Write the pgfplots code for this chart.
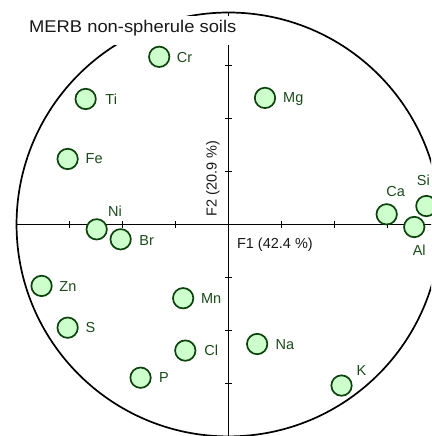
\documentclass[border=0pt]{standalone}
\usepackage{graphicx}
\usepackage{pgfplots}
\pgfplotsset{compat=1.18}
\usepackage{pgfplotstable}
\usepackage{fontspec}
\setmainfont{Liberation Sans}
\definecolor{mfill}{HTML}{CCFFCC}
\definecolor{mdraw}{HTML}{0C420C}
\definecolor{ltext}{HTML}{1A4A1A}

\pgfplotstableread{
x y dx dy label
-0.327 0.791 25.4 -5.2 Cr
-0.674 0.592 25.6 -5.2 Ti
0.172 0.597 28.3 -5.0 Mg
-0.759 0.309 26.5 -4.5 Fe
-0.622 -0.023 18.3 13.1 Ni
-0.509 -0.070 26.0 -5.9 Br
0.746 0.048 9.0 18.1 Ca
0.876 -0.012 5.0 -28.9 Al
0.933 0.087 -2.9 20.8 Si
-0.882 -0.290 26.3 -5.9 Zn
-0.214 -0.348 28.0 -5.2 Mn
-0.759 -0.487 22.8 -5.2 S
-0.204 -0.595 25.9 -5.2 Cl
0.135 -0.564 27.7 -5.2 Na
-0.415 -0.723 23.5 -5.2 P
0.533 -0.760 20.0 10.5 K
}\pts

\begin{document}
\begin{tikzpicture}
\begin{axis}[
  at={(0,0)}, anchor=south west,
  scale only axis, width=431pt, height=436pt,
  xmin=-1.078, xmax=0.955, ymin=-0.998, ymax=1.059,
  hide axis, clip=true,
]
\draw[line width=1.7pt] (axis cs:0,0) circle[radius=1];
\draw[line width=1.7pt] (axis cs:-1,0) -- (axis cs:1.1,0);
\draw[line width=1.7pt] (axis cs:0,-1.1) -- (axis cs:0,1);
\pgfplotsinvokeforeach{-0.75,-0.5,-0.25,0.25,0.5,0.75}{
  \draw[line width=1.5pt] ([yshift=-3.2pt]axis cs:#1,0) -- ([yshift=3.2pt]axis cs:#1,0);
  \draw[line width=1.5pt] ([xshift=-3.2pt]axis cs:0,#1) -- ([xshift=3.2pt]axis cs:0,#1);
}
\addplot[only marks, mark=*, mark size=10.2pt,
  mark options={fill=mfill, draw=mdraw, line width=1.7pt},
  point meta=explicit symbolic,
  visualization depends on={\thisrow{dx}\as\dx},
  visualization depends on={\thisrow{dy}\as\dy},
  nodes near coords,
  nodes near coords style={anchor=base, xshift=\dx pt, yshift=\dy pt, inner sep=0pt,
    text=ltext, font=\fontsize{14.5}{16}\selectfont},
] table[meta=label] {\pts};
\node[anchor=base west, inner sep=0pt, text=black!90, font=\fontsize{14.5}{16}\selectfont]
  at ([xshift=8.3pt, yshift=-24.5pt]axis cs:0,0) {F1 (42.4 \%)};
\node[rotate=90, anchor=base west, inner sep=0pt, text=black!90, font=\fontsize{14.5}{16}\selectfont]
  at ([xshift=-11.9pt, yshift=7.8pt]axis cs:0,0) {F2 (20.9 \%)};
\fill[white] ([yshift=-45pt]rel axis cs:0,1) rectangle ([xshift=243pt, yshift=-16pt]rel axis cs:0,1);
\node[anchor=base west, inner sep=0pt, text=black!90, font=\fontsize{17}{20}\selectfont]
  at ([xshift=29pt, yshift=-32.5pt]rel axis cs:0,1) {\scalebox{1.08}[1]{MERB non-spherule soils}};
\end{axis}
\pgfresetboundingbox
\path (0,0) rectangle (431pt,436pt);
\end{tikzpicture}
\end{document}
